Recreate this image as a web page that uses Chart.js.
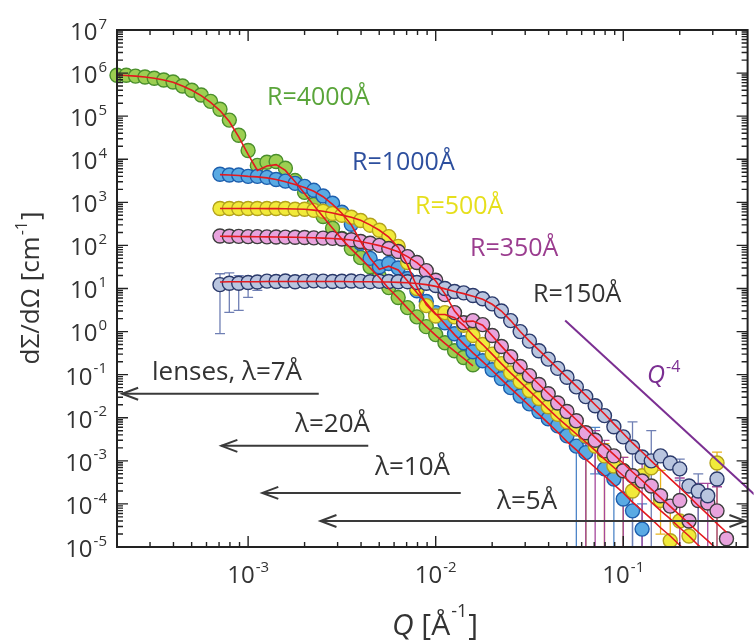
<!DOCTYPE html>
<html>
<head>
<meta charset="utf-8">
<script src="https://cdn.jsdelivr.net/npm/chart.js@4.4.1/dist/chart.umd.min.js"></script>
<style>
  html, body { margin: 0; padding: 0; background: #fff; }
</style>
</head>
<body>
<canvas id="c" width="756" height="643"></canvas>
<script>
// Q grid [1/Å] shared by every curve (null = no point at that Q)
const qValues = [
  2.0e-4, 2.24e-4, 2.51e-4, 2.82e-4, 3.16e-4, 3.55e-4, 3.98e-4, 4.47e-4, 5.01e-4, 5.62e-4,
  6.31e-4, 7.08e-4, 7.94e-4, 8.91e-4, 1.0e-3, 1.12e-3, 1.26e-3, 1.41e-3, 1.58e-3, 1.78e-3,
  2.0e-3, 2.24e-3, 2.51e-3, 2.82e-3, 3.16e-3, 3.55e-3, 3.98e-3, 4.47e-3, 5.01e-3, 5.62e-3,
  6.31e-3, 7.08e-3, 7.94e-3, 8.91e-3, 1.0e-2, 1.12e-2, 1.26e-2, 1.41e-2, 1.58e-2, 1.78e-2,
  2.0e-2, 2.24e-2, 2.51e-2, 2.82e-2, 3.16e-2, 3.55e-2, 3.98e-2, 4.47e-2, 5.01e-2, 5.62e-2,
  6.31e-2, 7.08e-2, 7.94e-2, 8.91e-2, 0.1, 0.112, 0.126, 0.141, 0.158, 0.178,
  0.2, 0.224, 0.251, 0.282, 0.316, 0.355
];
const _ = null;

// measured dΣ/dΩ [1/cm]
const r4000 = [
  8.9e5, 8.9e5, 8.5e5, 8.1e5, 7.6e5, 6.9e5, 6.2e5, 5.0e5, 4.0e5, 3.1e5,
  2.2e5, 1.45e5, 8.1e4, 3.6e4, 1.6e4, 7.2e3, 8.5e3, 8.9e3, 6.2e3, 3.2e3,
  1.7e3, 890, 470, 250, 145, 85, 52, 32, 19, 10.5,
  6.2, 3.6, 2.2, 1.3, 0.85, 0.55, 0.36, 0.25, 0.17, _,
  _, _, _, _, _, _, _, _, _, _,
  _, _, _, _, _, _, _, _, _, _,
  _, _, _, _, _, _
];
const r1000 = [
  _, _, _, _, _, _, _, _, _, _,
  _, 4.5e3, 4.3e3, 4.3e3, 4.0e3, 4.0e3, 3.8e3, 3.4e3, 3.1e3, 2.75e3,
  2.35e3, 1.9e3, 1.4e3, 950, 590, 310, 112, 50, 32, 38,
  30, 17, 8.9, 5.0, 2.75, 1.6, 0.89, 0.55, 0.34, 0.21,
  0.13, 0.081, 0.050, 0.032, 0.021, 0.014, 9.5e-3, 6.5e-3, 3.8e-3, 2.2e-3,
  1.55e-3, 3.0e-3, 6.5e-4, 3.8e-4, 1.3e-4, 6.9e-5, 2.6e-5, _, _, _,
  _, _, _, _, _, _
];
const r500 = [
  _, _, _, _, _, _, _, _, _, _,
  _, 720, 720, 720, 720, 720, 720, 720, 720, 690,
  690, 650, 620, 550, 500, 450, 380, 295, 225, 160,
  95, 40, 10, 4.0, 2.3, 2.75, 2.2, 1.4, 0.81, 0.50,
  0.30, 0.18, 0.11, 0.069, 0.043, 0.028, 0.018, 0.012, 8.1e-3, 5.5e-3,
  3.8e-3, 2.2e-3, 1.3e-3, 7.6e-4, 5.9e-4, 2.0e-4, 4.5e-4, 6.9e-4, 1.2e-4, 1.4e-5,
  4.0e-5, 1.8e-5, _, _, 8.9e-4, _
];
const r350 = [
  _, _, _, _, _, _, _, _, _, _,
  _, 165, 163, 162, 160, 160, 158, 157, 156, 155,
  153, 150, 148, 146, 141, 135, 123, 112, 100, 85,
  72, 55, 40, 26, 15.5, 7.2, 2.75, 1.6, 1.8, 1.45,
  0.81, 0.45, 0.26, 0.155, 0.095, 0.059, 0.036, 0.022, 0.014, 8.5e-3,
  4.5e-3, 3.0e-3, 1.7e-3, 1.3e-3, 5.9e-4, 4.5e-4, 3.4e-4, 2.6e-4, 1.55e-4, 8.9e-5,
  1.2e-4, 4.0e-5, 1.2e-4, 1.05e-4, 6.9e-5, 1.55e-5
];
const r150 = [
  _, _, _, _, _, _, _, _, _, _,
  _, 12.3, 13.2, 13.2, 13.8, 14.2, 14.8, 14.5, 14.9, 14.3,
  14.6, 15.0, 14.8, 14.5, 14.7, 14.9, 14.6, 14.4, 14.6, 14.5,
  14.3, 14.4, 13.8, 13.2, 11.7, 10.0, 8.5, 7.9, 6.9, 5.8,
  4.4, 3.0, 1.8, 1.0, 0.60, 0.36, 0.23, 0.14, 0.087, 0.052,
  0.031, 0.019, 0.0112, 6.2e-3, 3.6e-3, 2.1e-3, 1.23e-3, 1.0e-3, 1.3e-3, 8.9e-4,
  6.5e-4, 2.6e-4, 2.0e-4, 1.55e-4, 3.8e-4, _
];

// model fits (red lines)
const fit4000 = [
  9.0e5, 8.8e5, 8.5e5, 8.1e5, 7.6e5, 6.9e5, 6.1e5, 5.0e5, 4.0e5, 3.0e5,
  2.1e5, 1.35e5, 7.5e4, 3.3e4, 1.3e4, 5.5e3, 7.0e3, 7.5e3, 5.5e3, 3.0e3,
  1.6e3, 850, 460, 250, 140, 82, 50, 30, 18, 10,
  6.0, 3.5, 2.1, 1.3, 0.82, 0.53, 0.35, 0.24, 0.16, _,
  _, _, _, _, _, _, _, _, _, _,
  _, _, _, _, _, _, _, _, _, _,
  _, _, _, _, _, _
];
const fit1000 = [
  _, _, _, _, _, _, _, _, _, _,
  _, 4.4e3, 4.3e3, 4.2e3, 4.0e3, 3.9e3, 3.7e3, 3.4e3, 3.0e3, 2.6e3,
  2.2e3, 1.8e3, 1.35e3, 900, 560, 300, 125, 50, 28, 33,
  27, 15, 8.0, 4.6, 2.6, 1.5, 0.85, 0.52, 0.32, 0.20,
  0.125, 0.078, 0.048, 0.030, 0.019, 0.012, 7.5e-3, 4.6e-3, 2.8e-3, 1.8e-3,
  1.1e-3, 7.0e-4, 4.5e-4, 2.8e-4, 1.8e-4, 1.1e-4, 7.0e-5, 4.5e-5, 2.8e-5, 1.8e-5,
  1.1e-5, 7.0e-6, _, _, _, _
];
const fit500 = [
  _, _, _, _, _, _, _, _, _, _,
  _, 720, 720, 720, 720, 718, 716, 713, 709, 700,
  690, 660, 620, 565, 505, 450, 385, 300, 225, 155,
  90, 35, 11, 4.2, 2.5, 2.5, 2.1, 1.4, 0.82, 0.50,
  0.30, 0.18, 0.11, 0.068, 0.042, 0.026, 0.016, 0.010, 6.5e-3, 4.2e-3,
  2.7e-3, 1.75e-3, 1.1e-3, 7.0e-4, 4.5e-4, 2.8e-4, 1.8e-4, 1.1e-4, 7.0e-5, 4.5e-5,
  2.8e-5, 1.8e-5, 1.1e-5, 7.0e-6, _, _
];
const fit350 = [
  _, _, _, _, _, _, _, _, _, _,
  _, 163, 162, 161, 160, 159, 158, 157, 156, 155,
  153, 151, 148, 145, 140, 134, 123, 111, 99, 85,
  71, 55, 40, 26, 15, 7.5, 3.0, 1.7, 1.75, 1.4,
  0.80, 0.46, 0.27, 0.16, 0.097, 0.060, 0.037, 0.023, 0.0145, 9.0e-3,
  5.6e-3, 3.5e-3, 2.2e-3, 1.4e-3, 8.8e-4, 5.5e-4, 3.5e-4, 2.2e-4, 1.4e-4, 8.8e-5,
  5.5e-5, 3.5e-5, 2.2e-5, 1.4e-5, 8.8e-6, _
];
const fit150 = [
  _, _, _, _, _, _, _, _, _, _,
  _, 14.2, 14.3, 14.3, 14.4, 14.4, 14.5, 14.5, 14.5, 14.5,
  14.5, 14.5, 14.5, 14.5, 14.5, 14.4, 14.4, 14.3, 14.2, 14.1,
  13.9, 13.6, 13.1, 12.3, 11.2, 9.8, 8.5, 7.6, 6.6, 5.6,
  4.3, 3.0, 1.8, 1.0, 0.60, 0.37, 0.23, 0.14, 0.088, 0.054,
  0.033, 0.020, 0.0122, 7.2e-3, 4.3e-3, 2.6e-3, 1.6e-3, 1.0e-3, 6.2e-4, 3.8e-4,
  2.4e-4, 1.5e-4, 9.2e-5, 5.7e-5, 3.5e-5, 2.2e-5
];

// error bars: [Q, low, high]
const err150 = [[7.08e-4, 0.9, 22], [7.94e-4, 2.8, 23], [8.91e-4, 3.1, 20], [1.0e-3, 6.2, 18], [1.12e-3, 9.0, 17],
  [0.112, 1e-6, 8e-3], [0.141, 1e-6, 5e-3], [0.2, 3.5e-4, 1.1e-3], [0.251, 1e-6, 5e-4]];
const err1000 = [[0.0562, 1e-6, 2.9e-3], [0.0631, 1e-6, 2.5e-3], [0.0708, 5e-4, 6e-3], [0.0891, 1e-6, 1e-3],
  [0.1, 1e-6, 5e-4], [0.112, 1e-6, 2.5e-4], [0.126, 1e-6, 1e-4]];
const err500 = [[0.0631, 1e-6, 6e-3], [0.0794, 1e-6, 2.5e-3], [0.1, 1e-6, 1.2e-3], [0.158, 2e-5, 6e-4],
  [0.178, 1e-6, 1e-4], [0.316, 1e-6, 1.6e-3]];
const err350 = [[0.0631, 1e-6, 6e-3], [0.0708, 1e-6, 5e-3], [0.0794, 1e-6, 3e-3], [0.1, 1e-6, 1.2e-3],
  [0.126, 1e-6, 1e-3], [0.2, 1e-6, 4e-4], [0.251, 1e-6, 3e-4], [0.282, 1e-6, 3e-4], [0.316, 1e-6, 2.5e-4]];

// Q^-4 guide line
const porodQ = [0.049, 0.5];
const porodI = [1.8, 1.66e-4];

// horizontal Q-range arrows (tail Q, head Q, intensity level)
const arrowNames = ['lenses, λ=7Å', 'λ=20Å', 'λ=10Å', 'λ=5Å'];
const arrowFromQ = [2.38e-3, 4.37e-3, 1.36e-2, 0.448];
const arrowToQ = [2.13e-4, 7.2e-4, 1.19e-3, 2.43e-3];
const arrowI = [0.036, 2.23e-3, 1.8e-4, 4.0e-5];

const seriesNames = ['R=4000Å', 'R=1000Å', 'R=500Å', 'R=350Å', 'R=150Å'];

const FONT = '"Open Sans", "DejaVu Sans", sans-serif';
const TXT = '#333';

function pts(vals, qs) {
  qs = qs || qValues;
  return qs.map((q, i) => ({ x: q, y: vals[i] })).filter(p => p.y != null);
}

function markerSet(vals, fill, edge, order) {
  return {
    data: pts(vals), showLine: false, pointRadius: 7, pointHoverRadius: 7,
    backgroundColor: fill, borderColor: edge, borderWidth: 1.4, order,
    clip: { left: 8, top: 0, right: 0, bottom: 0 }
  };
}
function fitSet(vals) {
  return {
    data: pts(vals), showLine: true, pointRadius: 0, borderColor: '#e3191f',
    borderWidth: 1.6, backgroundColor: 'transparent', order: 1, clip: 0
  };
}

function supText(ctx, base, exp, x, y, size, align, italicBase) {
  // base + raised exponent; y is the vertical centre of the base
  const bf = (italicBase ? 'italic ' : '') + size + 'px ' + FONT;
  const ef = Math.round(size * 0.62) + 'px ' + FONT;
  ctx.font = bf; const bw = ctx.measureText(base).width;
  ctx.font = ef; const ew = ctx.measureText(exp).width;
  const total = bw + 1 + ew;
  let x0 = x;
  if (align === 'center') x0 = x - total / 2;
  else if (align === 'right') x0 = x - total;
  ctx.textAlign = 'left'; ctx.textBaseline = 'middle';
  ctx.font = bf; ctx.fillText(base, x0, y);
  ctx.font = ef; ctx.fillText(exp, x0 + bw + 1, y - size * 0.36);
}

const deco = {
  id: 'deco',
  beforeDatasetsDraw(chart) {
    const { ctx, chartArea: a, scales: { x: xs, y: ys } } = chart;
    ctx.save();
    ctx.beginPath(); ctx.rect(a.left, a.top, a.right - a.left, a.bottom - a.top); ctx.clip();
    const groups = [[err1000, '#4f86c8'], [err500, '#e8b41e'], [err350, '#a5479c'], [err150, '#6f7fb4']];
    groups.forEach(([list, col]) => {
      ctx.strokeStyle = col; ctx.lineWidth = 1.3;
      list.forEach(([q, lo, hi]) => {
        const x = xs.getPixelForValue(q);
        const y1 = ys.getPixelForValue(Math.max(lo, 1e-6));
        const y2 = ys.getPixelForValue(hi);
        ctx.beginPath(); ctx.moveTo(x, y1); ctx.lineTo(x, y2);
        ctx.moveTo(x - 5, y2); ctx.lineTo(x + 5, y2);
        if (lo >= 1e-5) { ctx.moveTo(x - 5, y1); ctx.lineTo(x + 5, y1); }
        ctx.stroke();
      });
    });
    ctx.restore();
  },
  afterDatasetsDraw(chart) {
    const { ctx, chartArea: a, scales: { x: xs, y: ys } } = chart;
    ctx.save();
    // frame
    ctx.strokeStyle = '#222'; ctx.lineWidth = 2;
    ctx.strokeRect(a.left, a.top, a.right - a.left, a.bottom - a.top);
    // y ticks (inside, both sides)
    ctx.lineWidth = 1.4;
    for (let k = -5; k <= 7; k++) {
      for (let m = 1; m <= 9; m++) {
        const v = m * Math.pow(10, k);
        if (v > 1e7) break;
        const y = ys.getPixelForValue(v), L = m === 1 ? 11 : 6;
        ctx.beginPath();
        ctx.moveTo(a.left, y); ctx.lineTo(a.left + L, y);
        ctx.moveTo(a.right, y); ctx.lineTo(a.right - L, y);
        ctx.stroke();
      }
    }
    // x ticks
    for (let k = -4; k <= 0; k++) {
      for (let m = 1; m <= 9; m++) {
        const v = m * Math.pow(10, k);
        if (v < xs.min || v > xs.max) continue;
        const x = xs.getPixelForValue(v), L = m === 1 ? 11 : 5;
        ctx.beginPath();
        ctx.moveTo(x, a.bottom); ctx.lineTo(x, a.bottom - L);
        ctx.moveTo(x, a.top); ctx.lineTo(x, a.top + L);
        ctx.stroke();
      }
    }
    // tick labels
    ctx.fillStyle = TXT;
    for (let k = -5; k <= 7; k++) {
      supText(ctx, '10', String(k), 107, ys.getPixelForValue(Math.pow(10, k)) + 3, 24, 'right');
    }
    for (let k = -3; k <= -1; k++) {
      supText(ctx, '10', String(k), xs.getPixelForValue(Math.pow(10, k)), 576, 24, 'center');
    }
    // axis titles
    ctx.save();
    ctx.translate(32, 288); ctx.rotate(-Math.PI / 2);
    ctx.font = '26px ' + FONT;
    const t1 = 'dΣ/dΩ [cm', t2 = '-1', t3 = ']';
    const w1 = ctx.measureText(t1).width, w3 = ctx.measureText(t3).width;
    ctx.font = '16px ' + FONT; const w2 = ctx.measureText(t2).width;
    let x0 = -(w1 + w2 + w3 + 2) / 2;
    ctx.textBaseline = 'middle'; ctx.textAlign = 'left';
    ctx.font = '26px ' + FONT; ctx.fillText(t1, x0, 0);
    ctx.font = '16px ' + FONT; ctx.fillText(t2, x0 + w1 + 1, -10);
    ctx.font = '26px ' + FONT; ctx.fillText(t3, x0 + w1 + w2 + 2, 0);
    ctx.restore();
    {
      ctx.font = 'italic 30px ' + FONT; const wq = ctx.measureText('Q').width;
      ctx.font = '30px ' + FONT; const wa = ctx.measureText(' [Å').width, wb = ctx.measureText(']').width;
      ctx.font = '18px ' + FONT; const we = ctx.measureText('-1').width;
      let x = 435 - (wq + wa + we + wb + 2) / 2;
      ctx.textBaseline = 'middle'; ctx.textAlign = 'left';
      ctx.font = 'italic 30px ' + FONT; ctx.fillText('Q', x, 626); x += wq;
      ctx.font = '30px ' + FONT; ctx.fillText(' [Å', x, 626); x += wa + 1;
      ctx.font = '18px ' + FONT; ctx.fillText('-1', x, 612); x += we + 1;
      ctx.font = '30px ' + FONT; ctx.fillText(']', x, 626);
    }
    // series names
    const nameCols = ['#5aa53a', '#2d4f9e', '#e6df1c', '#9b3d8f', '#333333'];
    const namePos = [[267, 98], [352, 163], [415, 207], [470, 249], [533, 295]];
    ctx.font = '25px ' + FONT; ctx.textAlign = 'left'; ctx.textBaseline = 'middle';
    seriesNames.forEach((s, i) => { ctx.fillStyle = nameCols[i]; ctx.fillText(s, namePos[i][0], namePos[i][1]); });
    // arrows
    ctx.strokeStyle = '#3a3a3a'; ctx.lineWidth = 2;
    const head = (x, y, dir) => {
      ctx.beginPath(); ctx.moveTo(x + dir * 16, y - 6); ctx.lineTo(x, y); ctx.lineTo(x + dir * 16, y + 6); ctx.stroke();
    };
    arrowNames.forEach((n, i) => {
      const xa = xs.getPixelForValue(arrowFromQ[i]), xb = xs.getPixelForValue(arrowToQ[i]);
      const y = ys.getPixelForValue(arrowI[i]);
      ctx.beginPath(); ctx.moveTo(xa, y); ctx.lineTo(xb, y); ctx.stroke();
      head(xb, y, 1);
      if (i === 3) head(xa, y, -1);
    });
    ctx.fillStyle = TXT; ctx.font = '26px ' + FONT; ctx.textBaseline = 'middle';
    const arrowTextPos = [[152, 373], [295, 425], [375, 468], [497, 502]];
    arrowNames.forEach((n, i) => { ctx.textAlign = 'left'; ctx.fillText(n, arrowTextPos[i][0], arrowTextPos[i][1]); });
    // Q^-4 label
    ctx.fillStyle = '#7b2f92';
    supText(ctx, 'Q', '-4', 647, 376, 25, 'left', true);
    ctx.restore();
  }
};

new Chart(document.getElementById('c'), {
  type: 'scatter',
  data: {
    datasets: [
      { data: pts(porodI, porodQ), showLine: true, pointRadius: 0, borderColor: '#7b2f92', borderWidth: 2, order: 0,
        clip: { left: 0, top: 0, right: 6, bottom: 0 } },
      fitSet(fit4000), fitSet(fit1000), fitSet(fit500), fitSet(fit350), fitSet(fit150),
      markerSet(r150, '#b9c5df', '#2b3a6b', 2),
      markerSet(r350, '#e8a3dd', '#3d3d3d', 3),
      markerSet(r500, '#f1ea3a', '#b3a21c', 4),
      markerSet(r1000, '#5aaae3', '#1d5fae', 5),
      markerSet(r4000, '#9ccf52', '#4a8f2c', 6)
    ]
  },
  options: {
    responsive: false,
    animation: false,
    events: [],
    layout: { padding: { left: 117, top: 30, right: 4, bottom: 96 } },
    scales: {
      x: { type: 'logarithmic', min: 2.0e-4, max: 0.46, display: false },
      y: { type: 'logarithmic', min: 1e-5, max: 1e7, display: false }
    },
    plugins: { legend: { display: false }, tooltip: { enabled: false } }
  },
  plugins: [deco]
});
</script>
</body>
</html>
